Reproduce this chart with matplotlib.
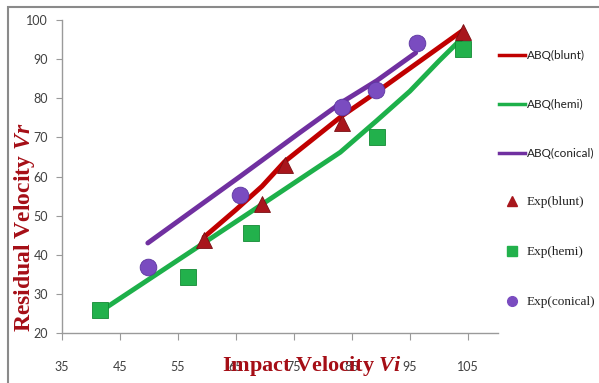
import matplotlib
matplotlib.use("Agg")
import matplotlib.pyplot as plt
from matplotlib.lines import Line2D
from matplotlib.patches import Rectangle

# Experimental points
impact_blunt = [59.5, 69.5, 73.4, 83.3, 104.1]
exp_blunt = [43.8, 53.0, 63.0, 73.7, 97.0]

impact_hemi = [41.6, 56.7, 67.6, 89.3, 104.1]
exp_hemi = [25.8, 34.3, 45.5, 70.2, 92.5]

impact_conical = [49.8, 65.7, 83.3, 89.1, 96.2]
exp_conical = [36.8, 55.3, 77.8, 82.0, 94.0]

# Simulation (ABQ) curves
abq_blunt_x = [59.5, 65.0, 69.5, 73.4, 83.3, 89.1, 104.1]
abq_blunt_y = [44.5, 51.5, 57.5, 63.8, 75.5, 81.4, 97.3]

abq_hemi_x = [41.6, 56.7, 67.6, 76.0, 83.0, 89.3, 95.0, 100.0, 104.1]
abq_hemi_y = [25.5, 40.3, 51.0, 59.3, 66.2, 74.3, 81.8, 89.5, 95.5]

abq_conical_x = [49.8, 65.7, 76.0, 83.3, 89.3, 96.0]
abq_conical_y = [43.0, 60.0, 71.2, 79.0, 84.5, 91.6]

x_ticks = [35, 45, 55, 65, 75, 85, 95, 105]
y_ticks = [20, 30, 40, 50, 60, 70, 80, 90, 100]

RED = "#C00000"
GREEN = "#1DB04A"
PURPLE = "#7030A0"
TRI = "#A8161C"
SQ = "#22B14C"
CIRC = "#7A4CC0"
LABEL = "#A50E16"

plt.rcParams["mathtext.fontset"] = "custom"
plt.rcParams["mathtext.it"] = "Liberation Serif:italic:bold"
plt.rcParams["mathtext.rm"] = "Liberation Serif:bold"
plt.rcParams["mathtext.bf"] = "Liberation Serif:bold"

fig = plt.figure(figsize=(5.99, 3.83), dpi=100)
ax = fig.add_axes([62 / 599, 1 - 333 / 383, 436 / 599, 313 / 383])

ax.plot(abq_blunt_x, abq_blunt_y, color=RED, lw=3.5, solid_capstyle="round", zorder=3)
ax.plot(abq_hemi_x, abq_hemi_y, color=GREEN, lw=3.5, solid_capstyle="round", zorder=3)
ax.plot(abq_conical_x, abq_conical_y, color=PURPLE, lw=3.5, solid_capstyle="round", zorder=3)

ax.plot(impact_blunt, exp_blunt, ls="none", marker="^", ms=12, color=TRI,
        mec="#7A0E12", mew=0.6, zorder=4)
ax.plot(impact_hemi, exp_hemi, ls="none", marker="s", ms=12, color=SQ,
        mec="#138A34", mew=0.6, zorder=4)
ax.plot(impact_conical, exp_conical, ls="none", marker="o", ms=12, color=CIRC,
        mec="#5C36A0", mew=0.6, zorder=4)

ax.set_xlim(35, 110.2)
ax.set_ylim(20, 100)
ax.set_xticks(x_ticks)
ax.set_yticks(y_ticks)

for s in ["top", "right"]:
    ax.spines[s].set_visible(False)
for s in ["left", "bottom"]:
    ax.spines[s].set_color("#9a9a9a")
    ax.spines[s].set_linewidth(1.0)

tick_font = ["Lato", "DejaVu Sans"]
ax.tick_params(axis="x", direction="out", length=5, color="#9a9a9a", pad=15,
               labelsize=9, labelcolor="#404040")
ax.tick_params(axis="y", direction="out", length=4, color="#9a9a9a", pad=6,
               labelsize=9, labelcolor="#404040")
for lab in ax.get_xticklabels() + ax.get_yticklabels():
    lab.set_fontfamily(tick_font)

label_font = ["Liberation Serif", "DejaVu Serif"]
fig.text(25 / 599, 1 - 227 / 383, r"Residual Velocity $Vr$",
         rotation=90, ha="center", va="center", fontsize=17, fontweight="bold",
         family=label_font, color=LABEL)
fig.text(312 / 599, 1 - 366 / 383, r"Impact Velocity $Vi$",
         ha="center", va="center", fontsize=16, fontweight="bold",
         family=label_font, color=LABEL)

handles = [
    Line2D([], [], color=RED, lw=2.5),
    Line2D([], [], color=GREEN, lw=2.5),
    Line2D([], [], color=PURPLE, lw=2.5),
    Line2D([], [], ls="none", marker="^", ms=7, color=TRI),
    Line2D([], [], ls="none", marker="s", ms=7, color=SQ),
    Line2D([], [], ls="none", marker="o", ms=7, color=CIRC),
]
names = ["ABQ(blunt)", "ABQ(hemi)", "ABQ(conical)", "Exp(blunt)", "Exp(hemi)", "Exp(conical)"]
leg = fig.legend(handles, names, loc="upper left", bbox_to_anchor=(499 / 599, 1 - 50 / 383),
                 frameon=False, fontsize=8.5, handlelength=2.2, handletextpad=0.15,
                 labelspacing=3.2, borderpad=0, borderaxespad=0)
for i, t in enumerate(leg.get_texts()):
    if i < 3:
        t.set_fontfamily(["Lato", "DejaVu Sans"])
    else:
        t.set_fontfamily(label_font)
        t.set_fontsize(9.5)
    t.set_color("#202020")

# outer frame
fig.patches.append(Rectangle((8 / 599, -0.1), 1.2, 1 - 7 / 383 + 0.1,
                             transform=fig.transFigure, fill=False,
                             ec="#8a8a8a", lw=1.5))

fig.savefig("out.png", dpi=100)
